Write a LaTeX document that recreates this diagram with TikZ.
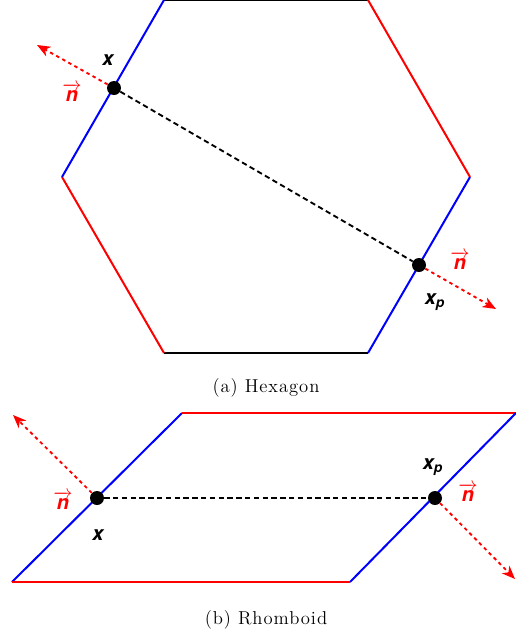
\documentclass[tikz,border=0pt]{standalone}
\usepackage{amsmath}
\usepackage{fontspec}
\newfontfamily\lblfont{TeX Gyre Heros}
\newfontfamily\capfont{lmroman12-regular.otf}[LetterSpace=5]
\usetikzlibrary{arrows.meta}

\newcommand{\nvec}{$\overrightarrow{\hbox{\lblfont\bfseries\itshape n}}$}

\begin{document}
\begin{tikzpicture}[
x=0.75pt, y=-0.75pt,
blueedge/.style={draw=blue, line width=1.5pt},
rededge/.style={draw=red, line width=1.5pt},
blackedge/.style={draw=black, line width=1.5pt},
dot/.style={circle, fill=black, inner sep=0pt, minimum size=10.5pt},
dashline/.style={black, line width=1.4pt, dash pattern=on 4pt off 2.6pt},
normal/.style={red, line width=1.4pt, dash pattern=on 2.6pt off 2.6pt, -{Stealth[length=10pt, width=8pt, inset=3pt]}},
lbl/.style={font=\lblfont\fontsize{15}{15}\selectfont\bfseries\itshape, inner sep=1pt},
nlbl/.style={lbl, text=red},
caption/.style={font=\capfont\fontsize{14}{16}\selectfont}
]
\useasboundingbox (0,0) rectangle (516,637);

\coordinate (hA) at (164,0);
\coordinate (hB) at (368,0);
\coordinate (hC) at (470,177);
\coordinate (hD) at (368,353);
\coordinate (hE) at (164,353);
\coordinate (hF) at (62,177);

\draw[blackedge] (hA) -- (hB);
\draw[rededge] (hB) -- (hC);
\draw[blueedge] (hC) -- (hD);
\draw[blackedge] (hD) -- (hE);
\draw[rededge] (hE) -- (hF);
\draw[blueedge] (hF) -- (hA);

\node[dot] (hx) at (114,88) {};
\node[dot] (hxp) at (419,265) {};
\coordinate (hnx) at (37,45);
\coordinate (hnxp) at (496,309);

\draw[dashline] (hx) -- (hxp);
\draw[normal] (hx) -- (hnx);
\draw[normal] (hxp) -- (hnxp);

\node[lbl] (hxlbl) at (108,60) {x};
\node[nlbl] (hnxlbl) at (72,92) {\nvec};
\node[lbl] (hxplbl) at (435,302) {x\textsubscript{p}};
\node[nlbl] (hnxplbl) at (460,260) {\nvec};

\node[caption] (capa) at (266,388) {(a) Hexagon};

\coordinate (rA) at (12,582);
\coordinate (rB) at (182,413);
\coordinate (rC) at (516,413);
\coordinate (rD) at (350,582);

\draw[blueedge] (rA) -- (rB);
\draw[rededge] (rB) -- (rC);
\draw[blueedge] (rC) -- (rD);
\draw[rededge] (rD) -- (rA);

\node[dot] (rx) at (97,498) {};
\node[dot] (rxp) at (435,498) {};
\coordinate (rnx) at (13,415);
\coordinate (rnxp) at (515,579);

\draw[dashline] (rx) -- (rxp);
\draw[normal] (rx) -- (rnx);
\draw[normal] (rxp) -- (rnxp);

\node[nlbl] (rnxlbl) at (63,500) {\nvec};
\node[lbl] (rxlbl) at (98,535) {x};
\node[lbl] (rxplbl) at (433,467) {x\textsubscript{p}};
\node[nlbl] (rnxplbl) at (468,492) {\nvec};

\node[caption] (capb) at (266,620) {(b) Rhomboid};
\end{tikzpicture}
\end{document}
